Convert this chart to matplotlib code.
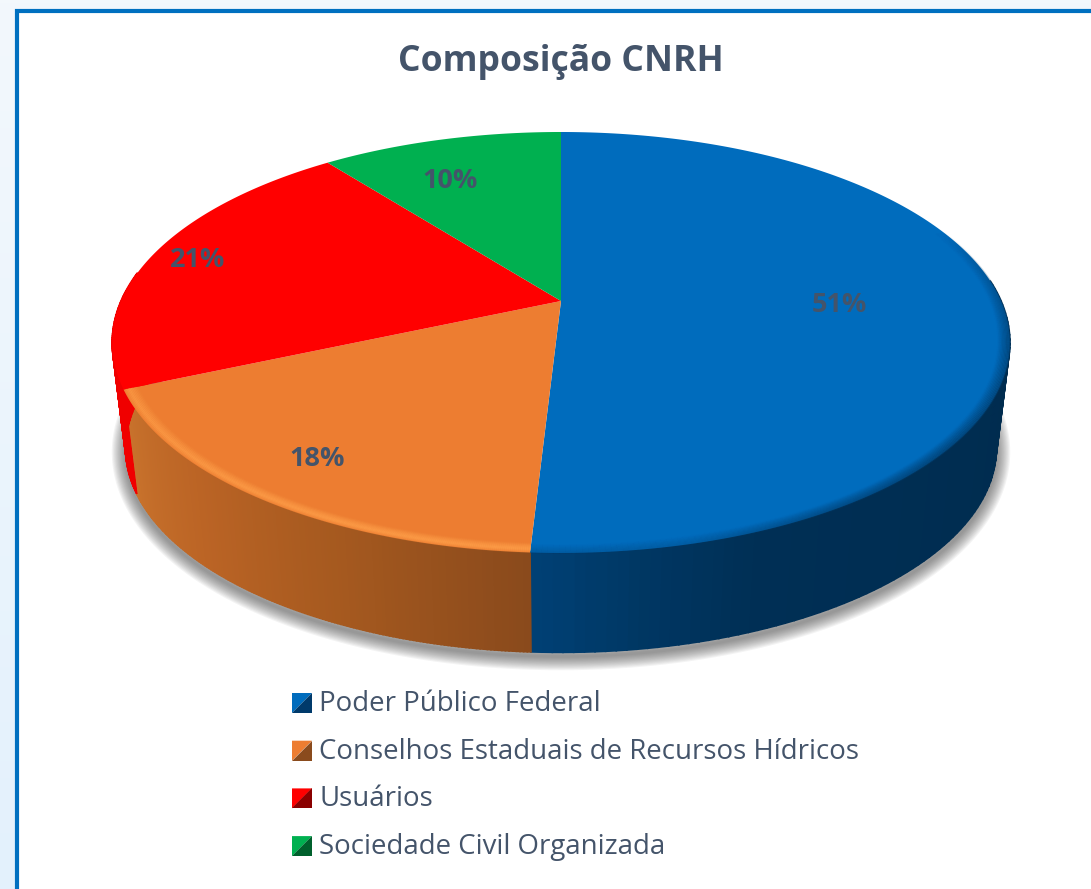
import numpy as np
import matplotlib
matplotlib.use("Agg")
import matplotlib.pyplot as plt
from matplotlib.collections import LineCollection
from matplotlib.colors import LinearSegmentedColormap, to_rgb
from matplotlib.patches import Rectangle

# dados
categorias = ["Poder Público Federal", "Conselhos Estaduais de Recursos Hídricos", "Usuários", "Sociedade Civil Organizada"]
valores = [50.9, 17.5, 21.1, 10.5]
rotulos = ["51%", "18%", "21%", "10%"]
titulo = "Composição CNRH"

# cores
cor_topo = ["#006cbd", "#ed7d31", "#ff0000", "#00b050"]
cor_escura = ["#003a6b", "#8a4b1d", "#8a0000", "#00602c"]
cor_borda = ["#003a68", "#ffa04a", "#ff0000", "#00b050"]
cor_texto = "#44546a"
cor_lado = [
    LinearSegmentedColormap.from_list("azul", [(0, "#004074"), (0.06, "#003763"), (0.13, "#002f55"), (0.5, "#002b4d"), (1, "#002b4d")]),
    LinearSegmentedColormap.from_list("laranja", ["#8a4a1c", "#a5591f", "#bb6425", "#c8722c"]),
    LinearSegmentedColormap.from_list("vermelho", ["#f00000", "#f00000"]),
    LinearSegmentedColormap.from_list("verde", ["#00602c", "#00602c"]),
]

# perspectiva do disco
cx, cy = 561, 301
A, B, k = 440, 202.3, 0.197
escala_base, dy_base = 0.97, 107


def projeta(theta, r=1.0, escala=1.0, dy=0.0):
    u = r * np.sin(theta)
    v = r * np.cos(theta)
    w = 1 + k * v
    return cx + escala * A * u / w, cy + dy + escala * B * (-v) / w


fig = plt.figure(figsize=(10.91, 8.89), dpi=100)
ax = fig.add_axes([0, 0, 1, 1])

# fundo claro com gradiente e painel branco
grad = np.linspace(0, 1, 256).reshape(-1, 1)
fundo = LinearSegmentedColormap.from_list("fundo", ["#f3f8fc", "#e3f1fd"])
ax.imshow(grad, cmap=fundo, extent=[0, 1091, 889, 0], aspect="auto", zorder=0)
ax.add_patch(Rectangle((17, 11), 1200, 1000, facecolor="white", edgecolor="#0070c0", linewidth=3, zorder=1))

limites = np.cumsum([0] + valores) / np.sum(valores) * 2 * np.pi

# sombra difusa em volta da base
t = np.linspace(np.pi * 0.42, np.pi * 1.56, 300)
xs, ys = projeta(t, 1.0, escala_base, dy_base + 4)
for lw in np.linspace(20, 2, 12):
    ax.plot(xs, ys, color="#404040", alpha=0.06, linewidth=lw, solid_capstyle="butt", zorder=2)

# lateral do disco, fatia por fatia (só a parte da frente aparece)
for i in range(len(valores)):
    ini, fim = limites[i], limites[i + 1]
    ang = np.linspace(ini, fim, 160)
    for a0, a1, f in zip(ang[:-1], ang[1:], np.linspace(0, 1, len(ang) - 1)):
        if a0 < 1.45 or a0 > 4.85:
            continue
        x0, y0 = projeta(a0)
        x1, y1 = projeta(a1)
        x2, y2 = projeta(a1, 1.0, escala_base, dy_base)
        x3, y3 = projeta(a0, 1.0, escala_base, dy_base)
        if i == 0:
            c = cor_lado[i](1 - f)
        else:
            c = cor_lado[i](f)
        ax.fill([x0, x1, x2, x3], [y0, y1, y2, y3], color=c, linewidth=1.2, zorder=3)

# topo do disco
for i in range(len(valores)):
    ang = np.linspace(limites[i], limites[i + 1], 200)
    x, y = projeta(ang)
    ax.fill(np.r_[cx, x], np.r_[cy, y], color=cor_topo[i], linewidth=0, zorder=4)

# chanfro na borda: some aos poucos na parte de trás
perfil_raio = [np.linspace(0.975, 1.0, 10), np.linspace(0.97, 0.998, 10)]
perfil_alfa = [np.linspace(0.03, 0.55, 10), np.r_[np.linspace(0.05, 0.6, 7), np.linspace(0.45, 0.15, 3)]]
for i in range(2):
    ang = np.linspace(limites[i], limites[i + 1], 300)
    for r, alfa in zip(perfil_raio[i], perfil_alfa[i]):
        x, y = projeta(ang, r)
        pts = np.column_stack([x, y]).reshape(-1, 1, 2)
        segs = np.concatenate([pts[:-1], pts[1:]], axis=1)
        cores = np.zeros((len(segs), 4))
        cores[:, :3] = to_rgb(cor_borda[i])
        cores[:, 3] = alfa * np.clip((y[:-1] - cy + 70) / 110, 0, 1)
        if i == 0:
            cores[:, 3] *= np.clip((x[:-1] - 600) / 350, 0.25, 1)
        ax.add_collection(LineCollection(segs, colors=cores, linewidths=1.5, zorder=5))

# rótulos de porcentagem
raio_rotulo = [0.63, 0.83, 0.885, 0.73]
desvio_rotulo = [0.0, 0.01, -0.01, -0.07]
for i, txt in enumerate(rotulos):
    meio = (limites[i] + limites[i + 1]) / 2 + desvio_rotulo[i]
    x, y = projeta(meio, raio_rotulo[i])
    ax.text(x, y, txt, ha="center", va="center", color=cor_texto, fontsize=19.5,
            fontweight="bold", family="Open Sans", zorder=6)

ax.text(561, 62, titulo, ha="center", va="center", color=cor_texto, fontsize=25.6,
        fontweight="bold", family="Open Sans", zorder=6)

# legenda
x_leg, y_leg, passo, lado = 292, 703, 47.7, 20
for i, nome in enumerate(categorias):
    y = y_leg + i * passo
    ax.fill([x_leg, x_leg + lado, x_leg], [y - lado / 2, y - lado / 2, y + lado / 2], color=cor_topo[i], linewidth=0, zorder=6)
    ax.fill([x_leg + lado, x_leg + lado, x_leg], [y - lado / 2, y + lado / 2, y + lado / 2], color=cor_escura[i], linewidth=0, zorder=6)
    ax.text(319, y + 1, nome, ha="left", va="center", color=cor_texto, fontsize=19.9, family="Open Sans", zorder=6)

ax.set_xlim(0, 1091)
ax.set_ylim(889, 0)
ax.axis("off")

fig.savefig("out.png", dpi=100)
